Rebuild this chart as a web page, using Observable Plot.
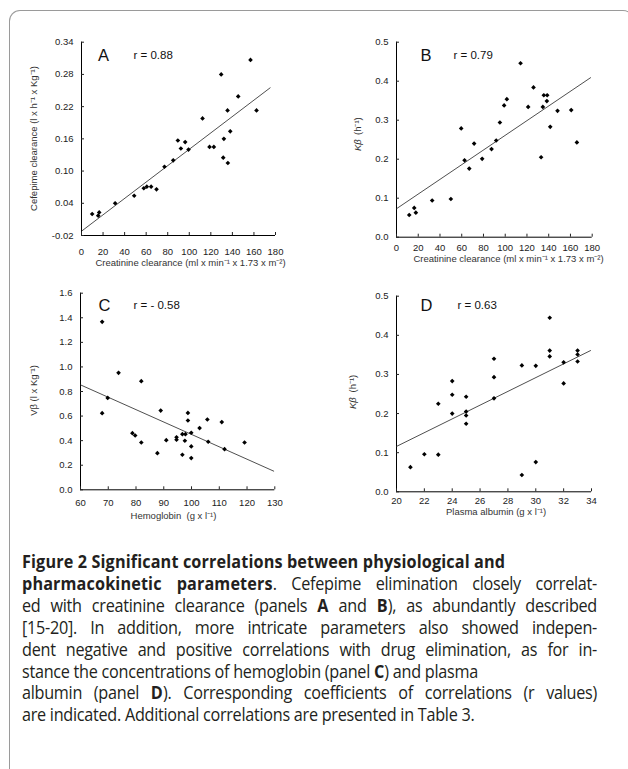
<!DOCTYPE html>
<html><head><meta charset="utf-8">
<script src="https://cdn.jsdelivr.net/npm/d3@7"></script>
<script src="https://cdn.jsdelivr.net/npm/@observablehq/plot@0.6"></script>
<style>
html,body{margin:0;padding:0;background:#fff;}
body{width:628px;height:769px;overflow:hidden;position:relative;font-family:"Liberation Sans",Arial,sans-serif;}
#frame{position:absolute;left:9px;top:10px;width:625px;height:800px;border:1px solid #9a9a9a;border-bottom:none;border-radius:11px 11px 0 0;box-sizing:border-box;}
.panel{position:absolute;}
.panel svg{overflow:visible;}
#caption{position:absolute;left:21.7px;top:551px;width:638.9px;transform:scaleX(0.9);transform-origin:0 0;font-family:"Open Sans",sans-serif;font-size:18px;line-height:21.9px;color:#231f20;letter-spacing:-0.3px;}
#caption div{white-space:nowrap;}
#caption div.j{text-align:justify;text-align-last:justify;white-space:normal;}
#caption b{font-weight:700;letter-spacing:0.15px;}
</style>
</head><body>
<div id="frame"></div>
<div id="pA" class="panel"></div>
<div id="pB" class="panel"></div>
<div id="pC" class="panel"></div>
<div id="pD" class="panel"></div>
<div id="caption">
<div><b>Figure 2 Significant correlations between physiological and</b></div>
<div class="j"><b>pharmacokinetic parameters</b>. Cefepime elimination closely correlat-</div>
<div class="j">ed with creatinine clearance (panels <b>A</b> and <b>B</b>), as abundantly described</div>
<div class="j">[15-20]. In addition, more intricate parameters also showed indepen-</div>
<div class="j">dent negative and positive correlations with drug elimination, as for in-</div>
<div>stance the concentrations of hemoglobin (panel <b>C</b>) and plasma</div>
<div class="j">albumin (panel <b>D</b>). Corresponding coefficients of correlations (r values)</div>
<div>are indicated. Additional correlations are presented in Table 3.</div>
</div>
<script>
// ---- Panel A: Cefepime clearance vs creatinine clearance ----
const aX = [9.9,15.5,16.4,31.2,48.9,57.8,60.6,64.6,69.6,77,85.1,89.4,92.2,96.2,99.3,112.3,118.8,122.8,129.6,131.5,132.1,135.8,135.5,138,145.4,156.8,162.4];
const aY = [0.020,0.017,0.023,0.040,0.054,0.068,0.071,0.071,0.066,0.108,0.120,0.157,0.142,0.154,0.140,0.198,0.145,0.145,0.280,0.125,0.160,0.115,0.213,0.174,0.239,0.307,0.213];
const aFitX = [0, 175];
const aFitY = [-0.012, 0.255];
const aXTicks = [0,20,40,60,80,100,120,140,160,180];
const aYTicks = [-0.02,0.04,0.10,0.16,0.22,0.28,0.34];

// ---- Panel B: Kbeta vs creatinine clearance ----
const bX = [11.7,16.3,17.8,32.8,50,59.5,62.6,66.9,71.4,78.8,87.4,91.7,95.1,99,101.5,114.1,121.1,126,133,134.6,135.5,138.6,138.3,141.4,148.1,160.7,165.9];
const bY = [0.057,0.075,0.063,0.094,0.098,0.279,0.197,0.176,0.240,0.201,0.226,0.248,0.294,0.338,0.354,0.446,0.334,0.384,0.205,0.334,0.364,0.364,0.349,0.283,0.324,0.326,0.243];
const bFitX = [0, 178.5];
const bFitY = [0.073, 0.409];
const bXTicks = [0,20,40,60,80,100,120,140,160,180];
const bYTicks = [0,0.1,0.2,0.3,0.4,0.5];

// ---- Panel C: Vbeta vs hemoglobin ----
const cX = [67.8,67.8,69.8,73.7,78.7,79.7,81.9,81.9,87.7,88.9,90.9,94.6,94.6,96.7,96.7,97.6,97.8,98.7,98.7,99.9,99.9,99.9,102.9,105.7,106,110.9,111.9,119.1];
const cY = [1.367,0.624,0.748,0.952,0.461,0.442,0.884,0.385,0.298,0.645,0.404,0.428,0.407,0.453,0.285,0.399,0.453,0.626,0.564,0.464,0.353,0.258,0.502,0.572,0.391,0.551,0.331,0.385];
const cFitX = [60, 129.6];
const cFitY = [0.854, 0.152];
const cXTicks = [60,70,80,90,100,110,120,130];
const cYTicks = [0,0.2,0.4,0.6,0.8,1.0,1.2,1.4,1.6];

// ---- Panel D: Kbeta vs plasma albumin ----
const dX = [21,22,23,23,24,24,24,25,25,25,25,27,27,27,29,29,30,30,31,31,31,32,32,33,33,33];
const dY = [0.063,0.096,0.225,0.095,0.283,0.248,0.200,0.243,0.205,0.195,0.174,0.340,0.293,0.239,0.323,0.043,0.322,0.076,0.445,0.361,0.346,0.331,0.277,0.361,0.351,0.333];
const dFitX = [20, 33.93];
const dFitY = [0.116, 0.361];
const dXTicks = [20,22,24,26,28,30,32,34];
const dYTicks = [0,0.1,0.2,0.3,0.4,0.5];

const FONT = "Liberation Sans, Arial, sans-serif";

function panel(cfg) {
  const [fl, ft, fr, fb] = cfg.frame;           // frame in page coords
  const [sl, st, W, H] = cfg.svg;               // svg box in page coords
  const at = (px, py) => ({frameAnchor: "top-left", dx: px - fl, dy: py - ft});
  const pts = cfg.xs.map((x, i) => ({x, y: cfg.ys[i]}));
  const fit = cfg.fitX.map((x, i) => ({x, y: cfg.fitY[i]}));
  const marks = [
    Plot.ruleX([cfg.xDomain[0]], {stroke: "#000", strokeWidth: 1}),
    Plot.ruleY([cfg.yDomain[0]], {stroke: "#000", strokeWidth: 1}),
    Plot.axisX({ticks: cfg.xTicks, tickSize: -3, tickPadding: cfg.xPad, tickFormat: d => String(d), label: null, fontSize: 9.5, fill: "#222"}),
    Plot.axisY({ticks: cfg.yTicks, tickSize: -3, tickPadding: 11, tickFormat: cfg.yFormat, label: null, fontSize: 9.5, fill: "#222"}),
    Plot.line(fit, {x: "x", y: "y", stroke: "#222", strokeWidth: 0.8}),
    Plot.dot(pts, {x: "x", y: "y", symbol: "diamond2", r: 2.1, fill: "#000", stroke: "none"}),
    Plot.text([cfg.letter], {text: d => d, ...at(...cfg.letterPos), textAnchor: "start", lineAnchor: "middle", fontSize: 16.5, fill: "#111"}),
    Plot.text([cfg.rText], {text: d => d, ...at(...cfg.rPos), textAnchor: "start", lineAnchor: "middle", fontSize: 11.5, fill: "#111"}),
    Plot.text([cfg.xTitle], {text: d => d, ...at(...cfg.xTitlePos), textAnchor: "middle", lineAnchor: "middle", fontSize: 9.5, fill: "#333"})
  ];
  for (const t of cfg.yTitles) {
    marks.push(Plot.text([t.text], {text: d => d, ...at(...t.pos), rotate: -90, textAnchor: t.anchor, lineAnchor: "middle", fontSize: 9.5, fontStyle: t.italic ? "italic" : "normal", fill: "#333"}));
  }
  const chart = Plot.plot({
    width: W, height: H,
    marginLeft: fl - sl, marginTop: ft - st, marginRight: sl + W - fr, marginBottom: st + H - fb,
    x: {domain: cfg.xDomain},
    y: {domain: cfg.yDomain},
    style: {fontFamily: FONT, fontSize: "9.5px", background: "transparent", color: "#222"},
    marks
  });
  const el = document.getElementById(cfg.id);
  el.style.left = sl + "px"; el.style.top = st + "px";
  el.appendChild(chart);
}

panel({id: "pA", svg: [10, 30, 305, 245], frame: [81, 41.7, 275, 235],
  xDomain: [0, 180], yDomain: [-0.02, 0.34], xTicks: aXTicks, yTicks: aYTicks, yFormat: d => d.toFixed(2), xPad: 15.5,
  xs: aX, ys: aY, fitX: aFitX, fitY: aFitY,
  letter: "A", letterPos: [97.5, 55.5], rText: "r = 0.88", rPos: [133, 55],
  xTitle: "Creatinine clearance (ml x min\u207B\u00B9 x 1.73 x m\u207B\u00B2)", xTitlePos: [190, 262],
  yTitles: [{text: "Cefepime clearance (l x h\u207B\u00B9 x Kg\u207B\u00B9)", pos: [33, 138], anchor: "middle"}]});

panel({id: "pB", svg: [320, 30, 305, 245], frame: [396, 41.7, 591.7, 236.7],
  xDomain: [0, 180], yDomain: [0, 0.5], xTicks: bXTicks, yTicks: bYTicks, yFormat: d => d.toFixed(1), xPad: 10,
  xs: bX, ys: bY, fitX: bFitX, fitY: bFitY,
  letter: "B", letterPos: [420, 55.5], rText: "r = 0.79", rPos: [453, 55],
  xTitle: "Creatinine clearance (ml x min\u207B\u00B9 x 1.73 x m\u207B\u00B2)", xTitlePos: [508, 258],
  yTitles: [{text: "K\u03B2", pos: [357, 150.5], anchor: "start", italic: true}, {text: "(h\u207B\u00B9)", pos: [357, 134.5], anchor: "start"}]});

panel({id: "pC", svg: [10, 280, 305, 245], frame: [80, 292.7, 274.3, 489.3],
  xDomain: [60, 130], yDomain: [0, 1.6], xTicks: cXTicks, yTicks: cYTicks, yFormat: d => d.toFixed(1), xPad: 12.5,
  xs: cX, ys: cY, fitX: cFitX, fitY: cFitY,
  letter: "C", letterPos: [98, 305], rText: "r = - 0.58", rPos: [133, 305],
  xTitle: "Hemoglobin  (g x l\u207B\u00B9)", xTitlePos: [173, 515],
  yTitles: [{text: "V\u03B2 (l x Kg\u207B\u00B9)", pos: [33, 390], anchor: "middle"}]});

panel({id: "pD", svg: [320, 280, 305, 245], frame: [396, 295.7, 591, 491.3],
  xDomain: [20, 34], yDomain: [0, 0.5], xTicks: dXTicks, yTicks: dYTicks, yFormat: d => d.toFixed(1), xPad: 8.8,
  xs: dX, ys: dY, fitX: dFitX, fitY: dFitY,
  letter: "D", letterPos: [420, 305], rText: "r = 0.63", rPos: [457, 305],
  xTitle: "Plasma albumin (g x l\u207B\u00B9)", xTitlePos: [495.5, 511.5],
  yTitles: [{text: "K\u03B2", pos: [352, 408.5], anchor: "start", italic: true}, {text: "(h\u207B\u00B9)", pos: [352, 392], anchor: "start"}]});
</script>
</body></html>
